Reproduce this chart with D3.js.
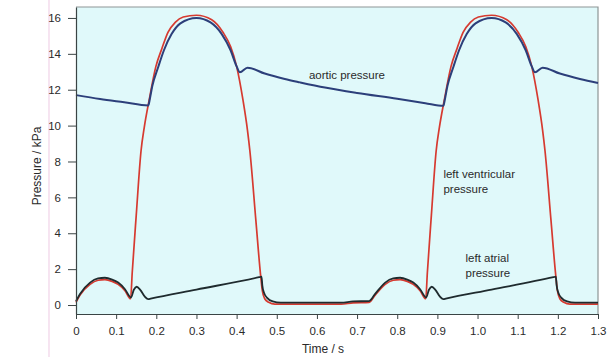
<!DOCTYPE html>
<html>
<head>
<meta charset="utf-8">
<script src="https://cdn.jsdelivr.net/npm/d3@7"></script>
<style>
  html, body { margin: 0; padding: 0; background: #fff; }
  svg { display: block; font-family: "Liberation Sans", Arial, sans-serif; }
</style>
</head>
<body>
<svg id="chart" width="613" height="357"></svg>
<script>
// ---- data (time in s, pressure in kPa) ----
const xTicks = [0, 0.1, 0.2, 0.3, 0.4, 0.5, 0.6, 0.7, 0.8, 0.9, 1.0, 1.1, 1.2, 1.3];
const yTicks = [0, 2, 4, 6, 8, 10, 12, 14, 16];

const ventricularPressure = [
  [0.000, 0.15], [0.010, 0.55], [0.035, 1.15], [0.055, 1.38], [0.072, 1.42], [0.090, 1.32],
  [0.105, 1.15], [0.122, 0.80], [0.136, 0.35], [0.140, 1.8], [0.150, 5.0], [0.162, 8.6],
  [0.170, 9.9], [0.182, 11.4], [0.199, 13.3], [0.214, 14.3], [0.229, 15.2], [0.247, 15.75],
  [0.267, 16.05], [0.300, 16.15], [0.338, 15.9], [0.366, 15.2], [0.385, 14.4], [0.400, 13.3],
  [0.416, 11.4], [0.427, 9.75], [0.433, 8.6], [0.448, 4.7], [0.460, 1.6], [0.464, 0.8],
  [0.470, 0.35], [0.480, 0.15], [0.495, 0.05], [0.660, 0.05], [0.690, 0.12], [0.730, 0.15],
  [0.745, 0.55], [0.770, 1.15], [0.790, 1.38], [0.807, 1.42], [0.825, 1.32],
  [0.840, 1.15], [0.857, 0.80], [0.871, 0.35], [0.875, 1.8], [0.885, 5.0], [0.897, 8.6],
  [0.905, 9.9], [0.917, 11.4], [0.934, 13.3], [0.949, 14.3], [0.964, 15.2], [0.982, 15.75],
  [1.002, 16.05], [1.035, 16.15], [1.073, 15.9], [1.101, 15.2], [1.120, 14.4], [1.135, 13.3],
  [1.151, 11.4], [1.162, 9.75], [1.168, 8.6], [1.183, 4.7], [1.195, 1.6], [1.199, 0.8],
  [1.205, 0.35], [1.215, 0.15], [1.230, 0.05], [1.300, 0.05]
];

const aorticPressure = [
  [0.000, 11.70], [0.060, 11.48], [0.120, 11.30], [0.180, 11.12], [0.184, 11.5], [0.190, 12.2],
  [0.205, 13.28], [0.219, 14.2], [0.238, 15.1], [0.260, 15.7], [0.300, 16.0], [0.335, 15.75],
  [0.363, 15.1], [0.385, 14.2], [0.400, 13.3], [0.408, 12.97], [0.427, 13.23], [0.470, 12.9],
  [0.520, 12.6], [0.558, 12.41], [0.620, 12.12], [0.700, 11.82], [0.800, 11.5], [0.870, 11.25],
  [0.915, 11.1], [0.919, 11.5], [0.925, 12.2], [0.940, 13.28], [0.954, 14.2], [0.973, 15.1],
  [0.995, 15.7], [1.035, 16.0], [1.070, 15.75], [1.098, 15.1], [1.120, 14.2], [1.135, 13.3],
  [1.143, 12.97], [1.162, 13.23], [1.205, 12.9], [1.255, 12.6], [1.300, 12.38]
];

const atrialPressure = [
  [0.000, 0.22], [0.010, 0.62], [0.035, 1.25], [0.055, 1.48], [0.072, 1.52], [0.090, 1.42],
  [0.105, 1.25], [0.122, 0.88], [0.137, 0.42], [0.144, 0.85], [0.151, 1.02], [0.160, 0.85],
  [0.172, 0.45], [0.180, 0.33], [0.186, 0.36], [0.300, 0.86], [0.456, 1.55], [0.462, 1.58],
  [0.464, 1.1], [0.468, 0.7], [0.476, 0.4], [0.490, 0.2], [0.510, 0.13], [0.660, 0.13],
  [0.690, 0.2], [0.730, 0.22],
  [0.745, 0.62], [0.770, 1.25], [0.790, 1.48], [0.807, 1.52], [0.825, 1.42],
  [0.840, 1.25], [0.857, 0.88], [0.872, 0.42], [0.879, 0.85], [0.886, 1.02], [0.895, 0.85],
  [0.907, 0.45], [0.915, 0.33], [0.921, 0.36], [1.035, 0.86], [1.189, 1.55], [1.195, 1.58],
  [1.197, 1.1], [1.201, 0.7], [1.209, 0.4], [1.223, 0.2], [1.243, 0.13], [1.300, 0.13]
];

const labels = [
  { lines: ["aortic pressure"], t: 0.58, p: 12.6 },
  { lines: ["left ventricular", "pressure"], t: 0.915, p: 7.1 },
  { lines: ["left atrial", "pressure"], t: 0.97, p: 2.38 }
];

// ---- layout ----
const svg = d3.select("#chart");
const plotLeft = 76, plotRight = 598, plotTop = 7, plotBottom = 314;

const x = d3.scaleLinear().domain([0, 1.3]).range([plotLeft, plotRight]);
const y = d3.scaleLinear().domain([-0.5, 16.61]).range([plotBottom, plotTop]);

// page margin artefact line
svg.append("line").attr("x1", 49).attr("x2", 49).attr("y1", 0).attr("y2", 357)
  .attr("stroke", "#f1d3e8").attr("stroke-width", 1.2);

// plot background
svg.append("rect").attr("x", plotLeft).attr("y", plotTop)
  .attr("width", plotRight - plotLeft).attr("height", plotBottom - plotTop)
  .attr("fill", "#e0f9fa");

// frame (top & right)
svg.append("path")
  .attr("d", `M${plotLeft},${plotTop}H${plotRight}V${plotBottom}`)
  .attr("fill", "none").attr("stroke", "#8d9595").attr("stroke-width", 1.2);

const line = d3.line().x(d => x(d[0])).y(d => y(d[1])).curve(d3.curveMonotoneX);

svg.append("path").datum(ventricularPressure).attr("d", line)
  .attr("fill", "none").attr("stroke", "#d63a30").attr("stroke-width", 1.7);
svg.append("path").datum(atrialPressure).attr("d", line)
  .attr("fill", "none").attr("stroke", "#1f2b2e").attr("stroke-width", 1.8);
svg.append("path").datum(aorticPressure).attr("d", line)
  .attr("fill", "none").attr("stroke", "#2c3f7a").attr("stroke-width", 2);

// axes
const xAxis = d3.axisBottom(x).tickValues(xTicks).tickSize(5).tickSizeOuter(0).tickPadding(8)
  .tickFormat(d => d === 0 ? "0" : d3.format(".1f")(d));
const yAxis = d3.axisLeft(y).tickValues(yTicks).tickSize(8).tickSizeOuter(0).tickPadding(7)
  .tickFormat(d3.format("d"));

const gx = svg.append("g").attr("transform", `translate(0,${plotBottom})`).call(xAxis);
const gy = svg.append("g").attr("transform", `translate(${plotLeft},0)`).call(yAxis);
[gx, gy].forEach(g => {
  g.selectAll("path.domain").attr("stroke", "#3a4444").attr("stroke-width", 1.2);
  g.selectAll(".tick line").attr("stroke", "#3a4444").attr("stroke-width", 1);
  g.selectAll(".tick text").attr("fill", "#2a2a2a").style("font-size", "11.5px")
    .style("font-family", "'Liberation Sans', Arial, sans-serif");
});

// axis titles
svg.append("text").attr("x", 323).attr("y", 353).attr("text-anchor", "middle")
  .attr("fill", "#2a2a2a").style("font-size", "12px").text("Time / s");
svg.append("text").attr("transform", `translate(41,166) rotate(-90)`).attr("text-anchor", "middle")
  .attr("fill", "#2a2a2a").style("font-size", "12px").text("Pressure / kPa");

// curve labels
labels.forEach(l => {
  const t = svg.append("text").attr("fill", "#2a2a2a").style("font-size", "11.5px");
  l.lines.forEach((s, i) => {
    t.append("tspan").attr("x", x(l.t)).attr("y", y(l.p) + i * 15).text(s);
  });
});
</script>
</body>
</html>
